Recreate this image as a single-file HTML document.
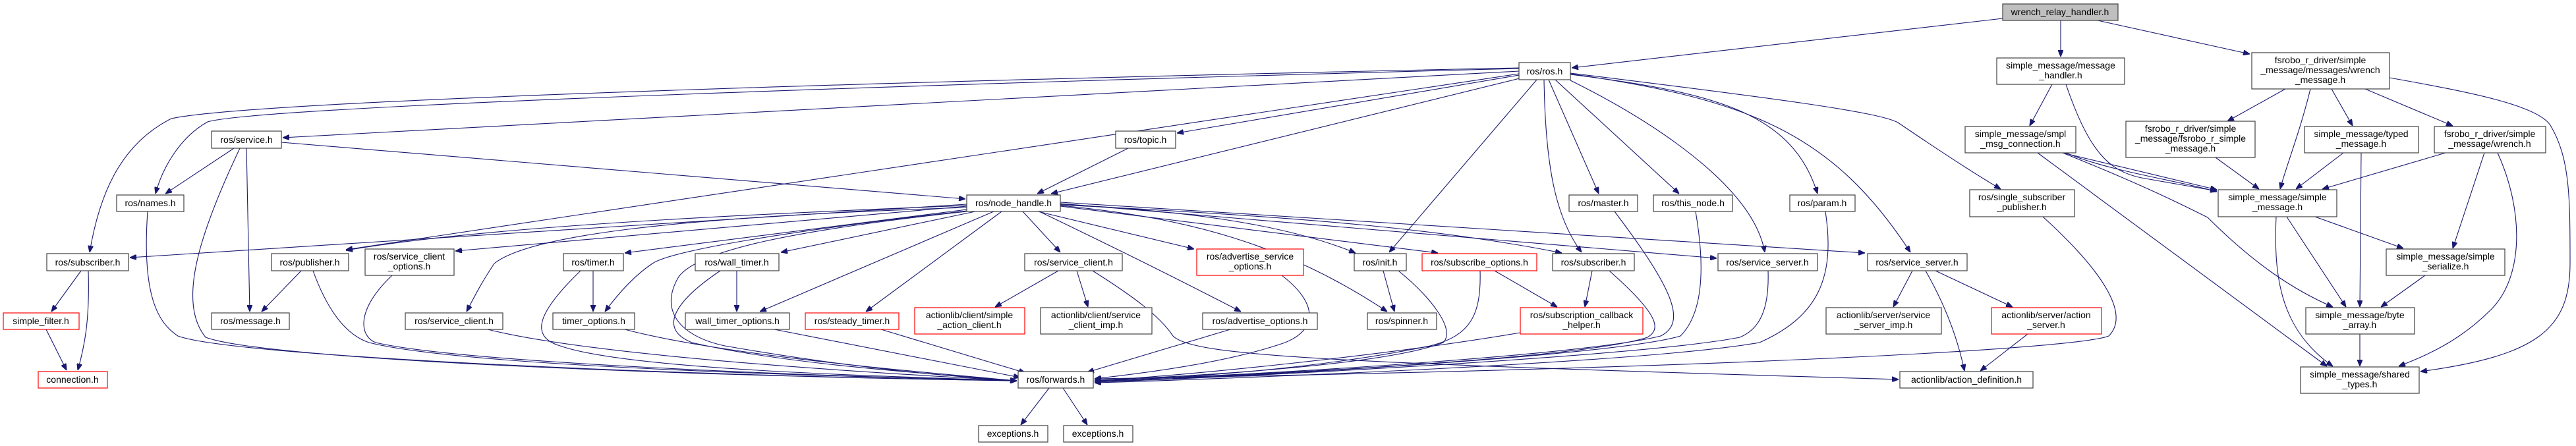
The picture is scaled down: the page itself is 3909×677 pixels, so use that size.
<!DOCTYPE html>
<html><head><meta charset="utf-8"><style>
html,body{margin:0;padding:0;background:#fff}
svg{display:block}
text{font-family:"Liberation Sans",sans-serif;font-size:14px;fill:#000;text-anchor:middle}
.n{fill:#fff;stroke:#404040;stroke-width:1.2}
.r{fill:#fff;stroke:#ff0000;stroke-width:1.2}
.g{fill:#bfbfbf;stroke:#404040;stroke-width:1.2}
path{fill:none;stroke:#191970;stroke-width:1.1}
</style></head><body>
<svg width="3909" height="677" viewBox="0 0 3909 677" xmlns="http://www.w3.org/2000/svg">
<defs><marker id="a" markerWidth="10" markerHeight="8" refX="10" refY="4" orient="auto" markerUnits="userSpaceOnUse"><path d="M0,0 L10,4 L0,8 Z" style="fill:#191970;stroke:#191970"/></marker></defs>
<g marker-end="url(#a)">
<path d="M3039,28 L2385,103"/>
<path d="M3127,31 L3127,86"/>
<path d="M3183,31 L3414,82"/>
<path d="M2305,103 C1500,120 400,150 260,180 C180,220 150,300 136,383"/>
<path d="M2305,104 C1500,125 400,160 315,185 C270,210 245,260 236,294"/>
<path d="M2305,108 L429,209"/>
<path d="M2305,112 L525,379"/>
<path d="M2305,114 L1786,202"/>
<path d="M2310,118 L1595,294"/>
<path d="M1712,225 L1574,294"/>
<path d="M2332,121 L2108,383"/>
<path d="M2343,121 C2345,250 2360,330 2400,383"/>
<path d="M2350,121 L2426,294"/>
<path d="M2360,121 L2548,294"/>
<path d="M2383,122 C2500,180 2660,280 2678,383"/>
<path d="M2383,113 C2600,140 2720,170 2758,294"/>
<path d="M2383,112 C2650,150 2780,200 2899,383"/>
<path d="M2383,111 C2700,150 2850,170 2880,186 C2930,220 2990,260 3036,287"/>
<path d="M355,225 L251,294"/>
<path d="M374,225 L379,473"/>
<path d="M364,225 C300,360 270,460 312,512 C400,545 1000,570 1543,578"/>
<path d="M427,216 L1465,302"/>
<path d="M224,321 C215,450 240,490 270,510 C350,540 1000,570 1543,578"/>
<path d="M1467,310 L197,391"/>
<path d="M1467,312 C1000,330 700,350 525,380"/>
<path d="M1467,313 L691,381"/>
<path d="M1467,315 C1000,330 800,360 750,400 C730,430 720,450 708,473"/>
<path d="M1467,318 L948,384"/>
<path d="M1467,320 C1200,350 1020,380 990,400 C960,420 935,450 918,473"/>
<path d="M1480,321 L1185,383"/>
<path d="M1508,321 L1153,473"/>
<path d="M1520,321 L1314,473"/>
<path d="M1552,321 L1609,383"/>
<path d="M1575,321 L1812,378"/>
<path d="M1577,321 C1700,380 1780,420 1883,473"/>
<path d="M1609,310 C1800,320 1950,340 2057,384"/>
<path d="M1609,312 C1800,330 1950,370 2105,473"/>
<path d="M1609,313 L2182,384"/>
<path d="M1609,311 C2000,330 2200,350 2370,384"/>
<path d="M1609,309 L2605,392"/>
<path d="M1609,307 L2830,384"/>
<path d="M1467,321 C1200,350 1060,380 1030,420 C1000,470 1030,510 1100,525 C1300,560 1450,572 1543,578"/>
<path d="M123,411 L78,473"/>
<path d="M134,411 C136,480 130,520 118,562"/>
<path d="M70,500 L101,562"/>
<path d="M457,411 L397,473"/>
<path d="M475,411 C500,480 530,510 560,520 C700,555 1200,570 1543,578"/>
<path d="M595,418 C540,470 545,510 570,520 C700,550 1200,570 1543,578"/>
<path d="M740,500 C900,540 1300,565 1543,578"/>
<path d="M881,411 C820,470 800,510 850,525 C950,560 1300,570 1543,578"/>
<path d="M900,411 L900,473"/>
<path d="M948,500 C1100,540 1400,565 1543,578"/>
<path d="M1118,411 L1118,473"/>
<path d="M1093,411 C1020,460 1000,500 1050,520 C1200,555 1450,570 1543,578"/>
<path d="M1175,500 L1548,573"/>
<path d="M1337,500 L1556,566"/>
<path d="M1606,411 L1510,466"/>
<path d="M1634,411 L1651,466"/>
<path d="M1658,411 C1720,450 1760,480 1780,510 C1810,540 2000,550 2881,576"/>
<path d="M1945,418 C2000,460 2000,500 1950,520 C1850,555 1700,570 1661,575"/>
<path d="M1867,500 L1650,565"/>
<path d="M1592,589 L1549,645"/>
<path d="M1613,589 L1650,645"/>
<path d="M2099,411 L2116,473"/>
<path d="M2122,411 C2170,450 2210,500 2190,520 C2100,555 1800,572 1661,577"/>
<path d="M2268,411 L2363,466"/>
<path d="M2246,411 C2248,480 2230,510 2170,525 C2000,560 1800,574 1661,578"/>
<path d="M2416,411 L2405,466"/>
<path d="M2442,411 C2520,480 2520,500 2500,512 C2400,545 1900,570 1661,578"/>
<path d="M2307,505 C2100,540 1800,570 1661,578"/>
<path d="M2450,321 C2540,440 2560,490 2520,510 C2400,540 1900,570 1661,578"/>
<path d="M2573,321 C2590,420 2580,480 2550,510 C2450,540 1900,572 1661,579"/>
<path d="M2683,411 C2685,470 2670,500 2640,512 C2500,540 1900,572 1661,580"/>
<path d="M2770,321 C2785,420 2760,480 2670,520 C2500,550 1900,574 1661,581"/>
<path d="M2902,411 L2873,466"/>
<path d="M2937,411 L3054,466"/>
<path d="M2922,411 C2950,460 2970,510 2981,563"/>
<path d="M3077,507 L3005,563"/>
<path d="M3100,329 C3200,420 3230,480 3200,510 C3150,530 2600,560 1661,575"/>
<path d="M3114,128 L3080,191"/>
<path d="M3135,128 C3170,230 3200,260 3250,270 L3364,290"/>
<path d="M3130,232 L3364,288"/>
<path d="M3135,232 C3200,260 3310,275 3364,291"/>
<path d="M3130,232 C3250,280 3310,310 3350,330 C3420,400 3480,440 3540,466"/>
<path d="M3092,232 L3531,556"/>
<path d="M3468,135 L3380,184"/>
<path d="M3506,135 C3490,200 3470,250 3460,287"/>
<path d="M3538,135 L3570,191"/>
<path d="M3589,135 L3722,191"/>
<path d="M3626,118 C3750,140 3850,160 3870,190 C3900,240 3900,300 3900,400 C3900,500 3850,540 3673,564"/>
<path d="M3362,239 L3428,287"/>
<path d="M3556,232 L3484,287"/>
<path d="M3583,232 L3581,466"/>
<path d="M3711,232 L3524,287"/>
<path d="M3770,232 L3722,377"/>
<path d="M3790,232 C3830,320 3830,420 3780,470 C3730,520 3680,540 3640,556"/>
<path d="M3513,329 L3647,377"/>
<path d="M3470,329 L3560,466"/>
<path d="M3454,329 C3450,420 3460,500 3540,556"/>
<path d="M3680,418 L3613,466"/>
<path d="M3581,507 L3581,556"/>
</g>
<rect class="g" x="3039" y="6" width="175" height="25"/><text x="3126" y="23">wrench_relay_handler.h</text>
<rect class="n" x="2305" y="95" width="78" height="26"/><text x="2344" y="113">ros/ros.h</text>
<rect class="n" x="3030" y="88" width="194" height="40"/><text x="3127" y="104">simple_message/message</text><text x="3127" y="119">_handler.h</text>
<rect class="n" x="3417" y="80" width="209" height="55"/><text x="3521" y="96">fsrobo_r_driver/simple</text><text x="3521" y="111">_message/messages/wrench</text><text x="3521" y="126">_message.h</text>
<rect class="n" x="321" y="199" width="106" height="26"/><text x="374" y="217">ros/service.h</text>
<rect class="n" x="1693" y="199" width="91" height="26"/><text x="1738" y="217">ros/topic.h</text>
<rect class="n" x="2982" y="192" width="168" height="40"/><text x="3066" y="208">simple_message/smpl</text><text x="3066" y="223">_msg_connection.h</text>
<rect class="n" x="3226" y="184" width="196" height="55"/><text x="3324" y="200">fsrobo_r_driver/simple</text><text x="3324" y="215">_message/fsrobo_r_simple</text><text x="3324" y="230">_message.h</text>
<rect class="n" x="3497" y="192" width="173" height="40"/><text x="3583" y="208">simple_message/typed</text><text x="3583" y="223">_message.h</text>
<rect class="n" x="3694" y="192" width="169" height="40"/><text x="3778" y="208">fsrobo_r_driver/simple</text><text x="3778" y="223">_message/wrench.h</text>
<rect class="n" x="177" y="296" width="102" height="25"/><text x="228" y="313">ros/names.h</text>
<rect class="n" x="1467" y="296" width="142" height="25"/><text x="1538" y="313">ros/node_handle.h</text>
<rect class="n" x="2381" y="296" width="104" height="25"/><text x="2433" y="313">ros/master.h</text>
<rect class="n" x="2509" y="296" width="120" height="25"/><text x="2569" y="313">ros/this_node.h</text>
<rect class="n" x="2716" y="296" width="99" height="25"/><text x="2765" y="313">ros/param.h</text>
<rect class="n" x="2989" y="288" width="159" height="41"/><text x="3068" y="304">ros/single_subscriber</text><text x="3068" y="319">_publisher.h</text>
<rect class="n" x="3366" y="288" width="180" height="41"/><text x="3456" y="304">simple_message/simple</text><text x="3456" y="319">_message.h</text>
<rect class="n" x="71" y="385" width="124" height="26"/><text x="133" y="403">ros/subscriber.h</text>
<rect class="n" x="412" y="385" width="117" height="26"/><text x="470" y="403">ros/publisher.h</text>
<rect class="n" x="554" y="378" width="135" height="40"/><text x="621" y="394">ros/service_client</text><text x="621" y="409">_options.h</text>
<rect class="n" x="855" y="385" width="91" height="26"/><text x="900" y="403">ros/timer.h</text>
<rect class="n" x="1055" y="385" width="127" height="26"/><text x="1118" y="403">ros/wall_timer.h</text>
<rect class="n" x="1555" y="385" width="148" height="26"/><text x="1629" y="403">ros/service_client.h</text>
<rect class="r" x="1816" y="378" width="162" height="40"/><text x="1897" y="394">ros/advertise_service</text><text x="1897" y="409">_options.h</text>
<rect class="n" x="2055" y="385" width="79" height="26"/><text x="2094" y="403">ros/init.h</text>
<rect class="r" x="2158" y="385" width="174" height="26"/><text x="2245" y="403">ros/subscribe_options.h</text>
<rect class="n" x="2356" y="385" width="124" height="26"/><text x="2418" y="403">ros/subscriber.h</text>
<rect class="n" x="2607" y="385" width="151" height="26"/><text x="2682" y="403">ros/service_server.h</text>
<rect class="n" x="2834" y="385" width="151" height="26"/><text x="2909" y="403">ros/service_server.h</text>
<rect class="n" x="3621" y="378" width="180" height="40"/><text x="3711" y="394">simple_message/simple</text><text x="3711" y="409">_serialize.h</text>
<rect class="r" x="5" y="475" width="115" height="25"/><text x="62" y="492">simple_filter.h</text>
<rect class="n" x="321" y="475" width="118" height="25"/><text x="380" y="492">ros/message.h</text>
<rect class="n" x="615" y="475" width="148" height="25"/><text x="689" y="492">ros/service_client.h</text>
<rect class="n" x="839" y="475" width="124" height="25"/><text x="901" y="492">timer_options.h</text>
<rect class="n" x="1040" y="475" width="158" height="25"/><text x="1119" y="492">wall_timer_options.h</text>
<rect class="r" x="1222" y="475" width="142" height="25"/><text x="1293" y="492">ros/steady_timer.h</text>
<rect class="r" x="1388" y="467" width="167" height="40"/><text x="1471" y="483">actionlib/client/simple</text><text x="1471" y="498">_action_client.h</text>
<rect class="n" x="1579" y="467" width="169" height="40"/><text x="1663" y="483">actionlib/client/service</text><text x="1663" y="498">_client_imp.h</text>
<rect class="n" x="1825" y="475" width="174" height="25"/><text x="1912" y="492">ros/advertise_options.h</text>
<rect class="n" x="2075" y="475" width="105" height="25"/><text x="2127" y="492">ros/spinner.h</text>
<rect class="r" x="2307" y="467" width="186" height="40"/><text x="2400" y="483">ros/subscription_callback</text><text x="2400" y="498">_helper.h</text>
<rect class="n" x="2771" y="467" width="175" height="40"/><text x="2858" y="483">actionlib/server/service</text><text x="2858" y="498">_server_imp.h</text>
<rect class="r" x="3022" y="467" width="167" height="40"/><text x="3105" y="483">actionlib/server/action</text><text x="3105" y="498">_server.h</text>
<rect class="n" x="3499" y="467" width="165" height="40"/><text x="3581" y="483">simple_message/byte</text><text x="3581" y="498">_array.h</text>
<rect class="r" x="58" y="564" width="105" height="25"/><text x="110" y="581">connection.h</text>
<rect class="n" x="1545" y="564" width="114" height="25"/><text x="1602" y="581">ros/forwards.h</text>
<rect class="n" x="2883" y="564" width="202" height="25"/><text x="2984" y="581">actionlib/action_definition.h</text>
<rect class="n" x="3491" y="557" width="180" height="40"/><text x="3581" y="573">simple_message/shared</text><text x="3581" y="588">_types.h</text>
<rect class="n" x="1485" y="646" width="105" height="25"/><text x="1537" y="663">exceptions.h</text>
<rect class="n" x="1614" y="646" width="105" height="25"/><text x="1666" y="663">exceptions.h</text>
</svg>
</body></html>
